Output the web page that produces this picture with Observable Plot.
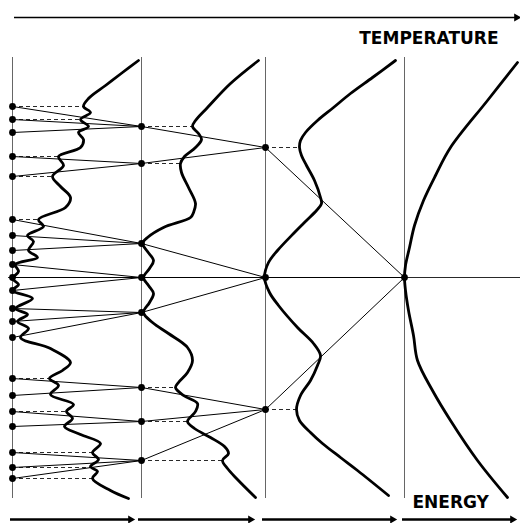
<!DOCTYPE html>
<html>
<head>
<meta charset="utf-8">
<script src="https://cdn.jsdelivr.net/npm/d3@7"></script>
<script src="https://cdn.jsdelivr.net/npm/@observablehq/plot@0.6"></script>
<style>
  html, body { margin: 0; padding: 0; background: #fff; }
  #chart svg { display: block; }
</style>
</head>
<body>
<div id="chart"></div>
<script>
// Temperature levels (horizontal position of each column)
const levelT = [12, 141, 265, 404];
const axisTop = 57, axisBottom = 498;

// Energies of the states at each temperature level
const level0 = [106,119,132,156,176,219,235,250,264,277,290,308,321,337,378,395,411,426,452,467,478];
const parent0 = [0,0,0,1,1,2,2,2,3,3,3,4,4,4,5,5,6,6,7,7,7];
const level1 = [126,163,243,277,312,387,421,460];
const parent1 = [0,0,1,1,1,2,2,2];
const level2 = [147,277,409];
const parent2 = [0,0,0];
const level3 = [277];

// Dashed links: [energy, free-energy minimum reached]
const dash0 = [[106,83],[119,80],[156,58],[176,52],[219,38],[378,49],[411,65],[452,92],[467,90],[478,92]];
const dash1 = [[126,192],[163,180],[387,173],[421,187],[460,222]];
const dash2 = [[147,300],[409,296]];

// Free-energy curves at each level: [energy, value]
const curve0 = [[60,138],[72,122],[85,105],[98,88],[106,83],[112,90],[119,80],[126,88],[132,78],[139,83],[147,80],[156,58],[165,63],[176,52],[186,60],[197,70],[207,65],[219,38],[226,43],[235,27],[241,33],[250,28],[257,37],[264,15],[271,18],[278,12],[284,18],[290,12],[298,32],[308,15],[314,27],[321,17],[328,28],[337,20],[348,50],[362,70],[370,62],[378,49],[385,58],[394,50],[404,73],[411,66],[418,72],[426,64],[434,80],[443,100],[452,92],[459,98],[466,90],[471,97],[478,92],[490,110],[498,128]];
const curve1 = [[60,258],[83,230],[107,207],[120,195],[126,192],[133,198],[139,201],[147,195],[156,184],[163,180],[172,181],[187,188],[203,195],[212,193],[217,190],[227,163],[237,147],[243,142],[251,147],[260,153],[268,149],[277,143],[285,148],[293,153],[302,149],[312,143],[322,152],[333,168],[347,187],[360,192],[372,187],[382,178],[387,175],[395,183],[403,197],[411,195],[421,187],[428,194],[437,210],[446,224],[453,228],[460,222],[468,227],[478,236],[497,255]];
const curve2 = [[60,395],[77,372],[93,350],[107,333],[120,317],[132,305],[140,300],[147,299],[155,301],[165,306],[180,314],[197,320],[203,321],[210,316],[220,306],[232,294],[250,277],[262,268],[277,264],[292,269],[305,278],[327,297],[343,313],[355,320],[365,317],[380,310],[395,300],[409,296],[420,299],[432,310],[443,322],[457,340],[470,357],[495,388]];
const curve3 = [[62,517],[100,487],[147,450],[175,435],[200,423],[225,414],[247,409],[265,405],[277,404],[290,405],[310,408],[335,413],[360,417],[390,432],[420,450],[460,477],[497,507]];

// Arrows: [x1, x2, y]
const topArrow = [[14, 519, 17]];
const bottomArrows = [[10,133,519],[138,253,519],[262,395,519],[402,515,519]];
const labels = [{text:"TEMPERATURE", x:498, y:43, anchor:"end"}, {text:"ENERGY", x:412, y:507, anchor:"start"}];

// Build tables
const nodes = [
  ...level0.map(e => ({t: levelT[0], e})),
  ...level1.map(e => ({t: levelT[1], e})),
  ...level2.map(e => ({t: levelT[2], e})),
  ...level3.map(e => ({t: levelT[3], e}))
];
const links = [
  ...level0.map((e,i) => ({x1: levelT[0], y1: e, x2: levelT[1], y2: level1[parent0[i]]})),
  ...level1.map((e,i) => ({x1: levelT[1], y1: e, x2: levelT[2], y2: level2[parent1[i]]})),
  ...level2.map((e,i) => ({x1: levelT[2], y1: e, x2: levelT[3], y2: level3[parent2[i]]}))
];
const dashes = [
  ...dash0.map(([e,v]) => ({x1: levelT[0], x2: v, y: e})),
  ...dash1.map(([e,v]) => ({x1: levelT[1], x2: v, y: e})),
  ...dash2.map(([e,v]) => ({x1: levelT[2], x2: v, y: e}))
];
const curves = [curve0, curve1, curve2, curve3].flatMap((c, k) => c.map(([e, v]) => ({k, e, v})));
const arrowsTop = topArrow.map(([x1,x2,y]) => ({x1, x2, y}));
const arrowsBottom = bottomArrows.map(([x1,x2,y]) => ({x1, x2, y}));
const allArrows = [...arrowsTop.map(d => ({...d, w: 1.6})), ...arrowsBottom.map(d => ({...d, w: 2.4}))];

const chart = Plot.plot({
  width: 520,
  height: 523,
  margin: 0,
  style: {background: "#fff"},
  x: {domain: [0, 520], range: [0, 520], axis: null},
  y: {domain: [0, 523], range: [0, 523], axis: null},
  marks: [
    Plot.ruleX(levelT, {y1: axisTop, y2: axisBottom, stroke: "#555", strokeWidth: 0.9}),
    Plot.ruleY(level3, {x1: 8, x2: 520, stroke: "#111", strokeWidth: 0.9}),
    Plot.ruleY(dashes, {y: "y", x1: "x1", x2: "x2", stroke: "#111", strokeWidth: 0.9, strokeDasharray: "4,3"}),
    Plot.link(links, {x1: "x1", y1: "y1", x2: "x2", y2: "y2", stroke: "#000", strokeWidth: 1}),
    Plot.line(curves, {x: "v", y: "e", z: "k", curve: "catmull-rom", stroke: "#000", strokeWidth: 2.8}),
    Plot.dot(nodes, {x: "t", y: "e", r: 3.4, fill: "#000", stroke: null}),
    Plot.ruleY(allArrows, {y: "y", x1: "x1", x2: d => d.x2 - 4, stroke: "#000", strokeWidth: "w"}),
    Plot.dot(allArrows, {x: d => d.x2 - 3, y: "y", symbol: "triangle", r: 3, rotate: 90, fill: "#000", stroke: null}),
    Plot.text(labels.filter(d => d.anchor === "end"), {x: "x", y: "y", text: "text", textAnchor: "end", lineAnchor: "bottom", fontSize: 17, fontWeight: "bold", fontFamily: "DejaVu Sans", fill: "#000"}),
    Plot.text(labels.filter(d => d.anchor === "start"), {x: "x", y: "y", text: "text", textAnchor: "start", lineAnchor: "bottom", fontSize: 17, fontWeight: "bold", fontFamily: "DejaVu Sans", fill: "#000"})
  ]
});
document.getElementById("chart").appendChild(chart);
</script>
</body>
</html>
